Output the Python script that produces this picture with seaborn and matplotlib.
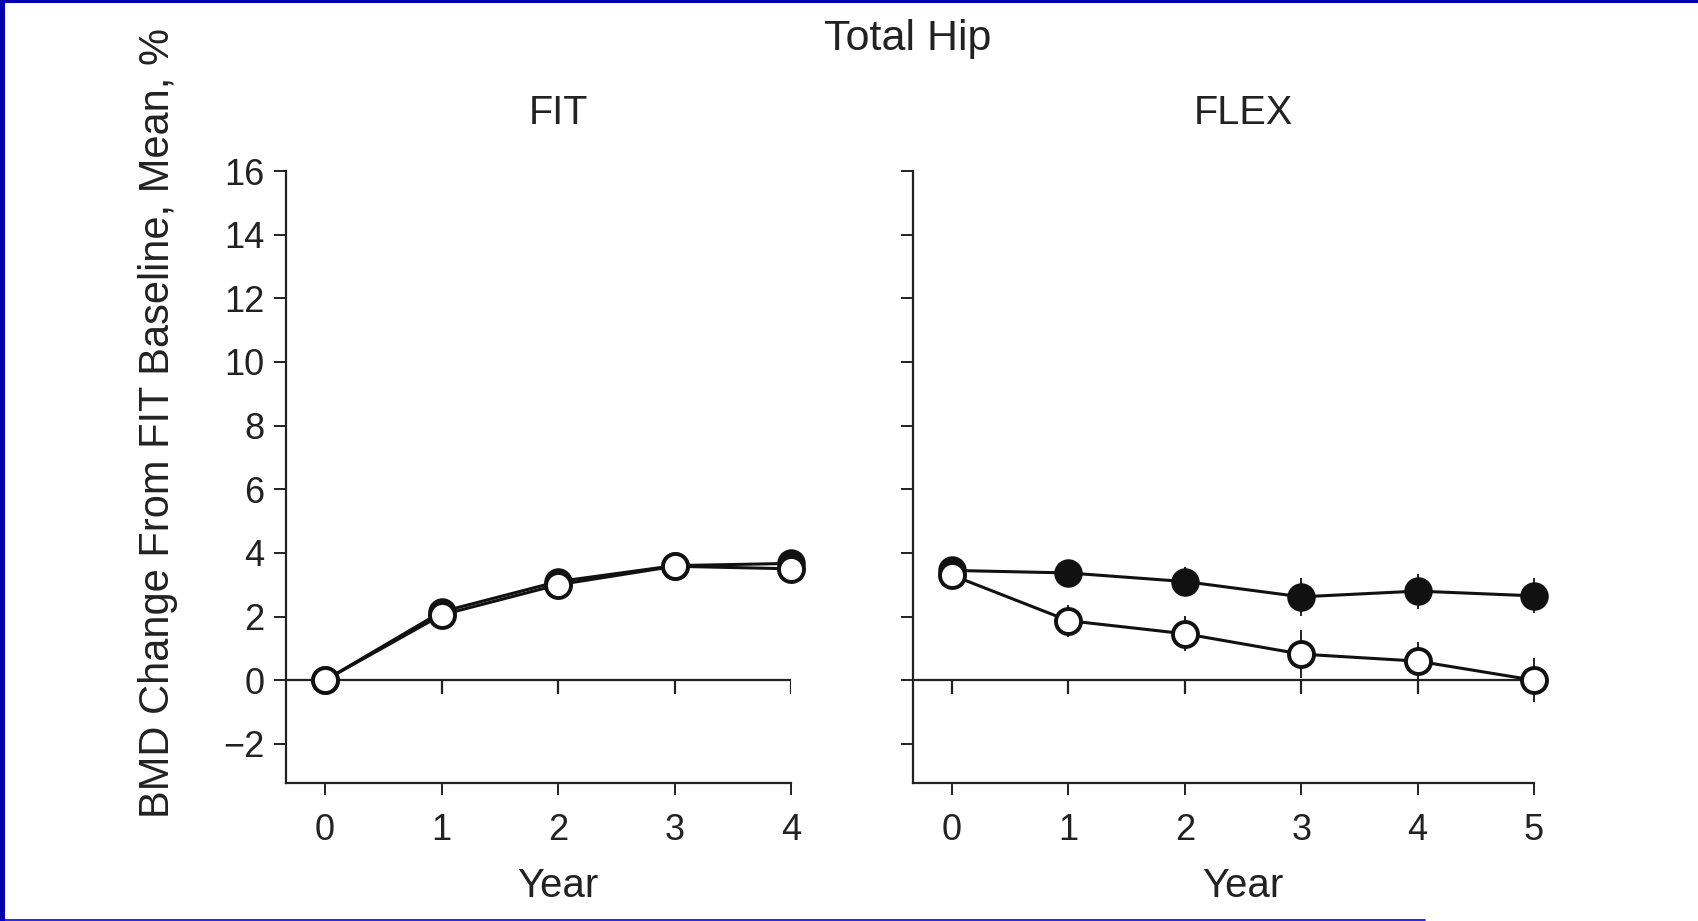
import matplotlib
matplotlib.use("Agg")
import matplotlib.pyplot as plt
import seaborn as sns
from matplotlib.lines import Line2D

# values (BMD change from FIT baseline, mean %)
fit_years = [0, 1, 2, 3, 4]
fit_filled = [0.0, 2.15, 3.1, 3.6, 3.67]
fit_filled_err = [0.0, 0.2, 0.2, 0.2, 0.25]
fit_open = [0.0, 2.05, 3.0, 3.58, 3.5]
fit_open_err = [0.0, 0.2, 0.2, 0.2, 0.45]

flex_years = [0, 1, 2, 3, 4, 5]
flex_filled = [3.45, 3.37, 3.1, 2.62, 2.8, 2.65]
flex_filled_err = [0.3, 0.35, 0.45, 0.6, 0.55, 0.55]
flex_open = [3.3, 1.87, 1.46, 0.82, 0.6, 0.0]
flex_open_err = [0.3, 0.5, 0.55, 0.75, 0.6, 0.7]

yticks = [-2, 0, 2, 4, 6, 8, 10, 12, 14, 16]

sns.set_style("ticks")
plt.rcParams["font.family"] = ["Liberation Sans", "DejaVu Sans"]

fig = plt.figure(figsize=(16.99, 9.21), dpi=100)
W, H = 1699, 921
top, bottom = 171, 783
ax_fit = fig.add_axes([286 / W, 1 - bottom / H, (791 - 286) / W, (bottom - top) / H])
ax_flex = fig.add_axes([913 / W, 1 - bottom / H, (1534 - 913) / W, (bottom - top) / H])

panels = [
    (ax_fit, "FIT", fit_years, fit_filled, fit_filled_err, fit_open, fit_open_err),
    (ax_flex, "FLEX", flex_years, flex_filled, flex_filled_err, flex_open, flex_open_err),
]

xmin = -0.335
for ax, name, yrs, filled, filled_err, opn, opn_err in panels:
    # zero reference line with small ticks hanging under it
    ax.axhline(0, color="#222222", lw=1.6, zorder=1)
    ax.vlines(yrs, -0.42, 0, color="#222222", lw=1.6, zorder=1)
    ax.errorbar(yrs, filled, yerr=filled_err, fmt="none", ecolor="#222222", elinewidth=1.4, zorder=2, clip_on=False)
    ax.errorbar(yrs, opn, yerr=opn_err, fmt="none", ecolor="#222222", elinewidth=1.4, zorder=2, clip_on=False)
    sns.lineplot(x=yrs, y=filled, ax=ax, color="#111111", lw=2.2, marker="o", markersize=18,
                 markerfacecolor="#111111", markeredgecolor="#111111", markeredgewidth=2.5,
                 clip_on=False, zorder=3)
    sns.lineplot(x=yrs, y=opn, ax=ax, color="#111111", lw=2.2, marker="o", markersize=18,
                 markerfacecolor="white", markeredgecolor="#111111", markeredgewidth=2.8,
                 clip_on=False, zorder=4)
    ax.set_xlim(xmin, yrs[-1])
    ax.set_ylim(-3.23, 16)
    ax.set_xticks(yrs)
    ax.set_yticks(yticks)
    ax.set_yticklabels(["\u22122" if t < 0 else str(t) for t in yticks])
    ax.tick_params(axis="both", direction="out", length=8.5, width=1.4, color="#222222",
                   labelsize=26, labelcolor="#222222", pad=7)
    ax.tick_params(axis="x", pad=13)
    for s in ["top", "right"]:
        ax.spines[s].set_visible(False)
    for s in ["left", "bottom"]:
        ax.spines[s].set_linewidth(1.6)
        ax.spines[s].set_color("#222222")
    # titles and x labels are centred on the year range, not the frame
    mid = ((yrs[0] + yrs[-1]) / 2 - xmin) / (yrs[-1] - xmin)
    ax.set_xlabel("Year", fontsize=29, color="#222222")
    ax.xaxis.set_label_coords(mid, -0.138)
    ax.set_ylabel("")
    ax.text(mid, 1.095, name, transform=ax.transAxes, fontsize=28.5, color="#222222",
            ha="center", va="center")

ax_flex.set_yticklabels([])
ax_fit.set_ylabel("BMD Change From FIT Baseline, Mean, %", fontsize=30, color="#222222")
ax_fit.yaxis.set_label_coords(-0.213, 0.588)

fig.text(908 / W, 1 - 39 / H, "Total Hip", fontsize=31, color="#222222", ha="center", va="center")

# blue frame from the slide
fig.add_artist(Line2D([0, 1], [1 - 1.5 / H, 1 - 1.5 / H], color="#0000B0", lw=2.2))
fig.add_artist(Line2D([2.5 / W, 2.5 / W], [0, 1], color="#0000B0", lw=3.6))
fig.add_artist(Line2D([0, 1425 / W], [0.6 / H, 0.6 / H], color="#0000EE", lw=1.2))

fig.savefig("out.png", dpi=100)
